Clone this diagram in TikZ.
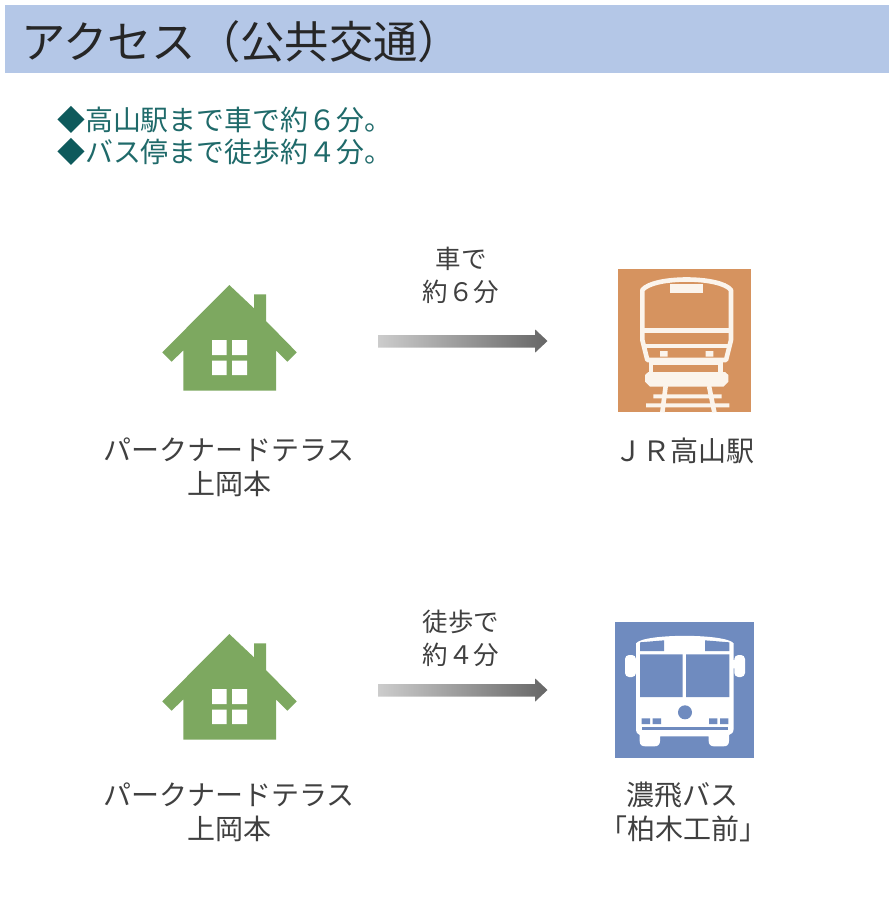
\documentclass[tikz,border=0pt]{standalone}
\usepackage{fontspec}
\setmainfont{Noto Sans CJK JP}
\usetikzlibrary{calc}
\definecolor{barblue}{HTML}{B4C7E7}
\definecolor{tealtext}{HTML}{1F6A6A}
\definecolor{tealmark}{HTML}{0E5A5C}
\definecolor{labelgray}{HTML}{404040}
\definecolor{housegreen}{HTML}{7DA860}
\definecolor{trainorange}{HTML}{D6935F}
\definecolor{traincream}{HTML}{FBF4EC}
\definecolor{busblue}{HTML}{6F8BBF}
\tikzset{
  labeltext/.style={text=labelgray,inner sep=0pt,font=\fontsize{28}{28}\selectfont,align=center},
  smalltext/.style={text=labelgray,inner sep=0pt,font=\fontsize{25.5}{25.5}\selectfont},
  notetext/.style={text=tealtext,inner sep=0pt,anchor=west,font=\fontsize{27.9}{27.9}\selectfont},
  house/.pic={
    \fill[housegreen] (0,0) -- (24.7,23.3) -- (24.7,9.3) -- (36.7,9.3) -- (36.7,36) -- (67.4,67.3) -- (58,76.7) -- (46.7,65.3) -- (46.7,105.7) -- (-46,105.7) -- (-46,65.3) -- (-57.6,76.7) -- (-67,67.3) -- cycle;
    \fill[white] (-17.3,55) rectangle (-2.6,70) (2.7,55) rectangle (17.7,70)
      (-17.3,75.7) rectangle (-2.6,90) (2.7,75.7) rectangle (17.7,90);
  },
}
\newcommand{\grayarrow}[2]{%
  \path[left color=black!20,right color=black!60]
    ($(#1)+(0,-6)$) -- ($(#2)+(-12.3,-6)$) -- ($(#2)+(-12.3,-11.5)$) -- (#2)
    -- ($(#2)+(-12.3,11.5)$) -- ($(#2)+(-12.3,6.5)$) -- ($(#1)+(0,6.5)$) -- cycle;}
\begin{document}
\begin{tikzpicture}[x=1pt,y=-1pt]
\useasboundingbox (0,0) rectangle (889,900);
\fill[white] (0,0) rectangle (889,900);
\fill[barblue] (5,5) rectangle (889,73);
\node[anchor=west,inner sep=0pt,text=black!85,font=\fontsize{44.3}{44.3}\selectfont] (title) at (21,42) {アクセス（公共交通）};
\node[notetext] (note1) at (57,120) {\textcolor{tealmark}{◆}高山駅まで車で約６分。};
\node[notetext] (note2) at (57,152) {\textcolor{tealmark}{◆}バス停まで徒歩約４分。};

% houses
\pic at (229.3,285) {house};
\pic at (229.3,634) {house};
\node[labeltext] (home1a) at (229,450) {パークナードテラス};
\node[labeltext] (home1b) at (229,484) {上岡本};
\node[labeltext] (home2a) at (229,795) {パークナードテラス};
\node[labeltext] (home2b) at (229,829) {上岡本};

% arrows
\coordinate (a1s) at (378,341);
\coordinate (a1e) at (547.5,341);
\coordinate (a2s) at (378,690);
\coordinate (a2e) at (547.5,690);
\grayarrow{a1s}{a1e}
\grayarrow{a2s}{a2e}
\node[smalltext] (car1) at (461,259) {車で};
\node[smalltext] (car2) at (461,292) {約６分};
\node[smalltext] (walk1) at (461,622) {徒歩で};
\node[smalltext] (walk2) at (461,655) {約４分};

% train icon
\begin{scope}[shift={(600,260)},x=0.33333pt,y=-0.33333pt]
  \fill[trainorange] (54,28) rectangle (453,457);
  \begin{scope}[draw=traincream,line width=4.6pt]
    \draw[line join=round] (127,240) -- (127,90) .. controls (160,48) and (360,48) .. (393,90) -- (393,240) -- (378,300) -- (142,300) -- cycle;
    \draw (130,212) -- (390,212);
    \draw (132,258) -- (388,258);
    \draw (153,300) -- (153,342);
    \draw (362,300) -- (362,342);
    \draw (150,308) -- (365,308);
    \draw (197,378) -- (187,457);
    \draw (327,378) -- (343,457);
  \end{scope}
  \fill[traincream] (210,72) rectangle (310,100);
  \fill[traincream] (180,273) rectangle (203,290) (317,273) rectangle (340,290);
  \fill[traincream] (135,345) -- (145,336) -- (375,336) -- (385,345) -- (385,365) -- (370,380) -- (150,380) -- (135,365) -- cycle;
  \fill[traincream] (160,403) rectangle (365,415) (138,430) rectangle (388,442);
\end{scope}
\node[labeltext] (jr) at (684.5,451) {ＪＲ高山駅};

% bus icon
\begin{scope}[shift={(600,615)},x=0.33333pt,y=-0.33333pt]
  \fill[busblue] (46,22) rectangle (462,428);
  \fill[white] (108,85) .. controls (130,55) and (378,55) .. (401,85) -- (401,340) .. controls (401,352) and (395,358) .. (387,360)
    -- (387,378) .. controls (387,390) and (380,394) .. (370,394) -- (342,394) .. controls (332,394) and (326,388) .. (326,378) -- (326,364)
    -- (180,364) -- (180,378) .. controls (180,388) and (174,394) .. (164,394) -- (136,394) .. controls (126,394) and (119,390) .. (119,378)
    -- (119,360) .. controls (112,358) and (108,352) .. (108,340) -- cycle;
  \fill[white,rounded corners=4pt] (75,120) rectangle (108,186) (403,120) rectangle (435,186);
  \fill[white] (100,135) rectangle (112,160) (398,135) rectangle (410,160);
  \fill[busblue] (120,118) rectangle (248,246) (258,118) rectangle (388,246);
  \fill[busblue] (120,82) -- (192,76) -- (192,108) -- (120,108) -- cycle;
  \fill[busblue] (315,76) -- (388,82) -- (388,108) -- (315,108) -- cycle;
  \fill[busblue] (255,292) circle[radius=21];
  \fill[busblue] (125,310) rectangle (150,327) (158,310) rectangle (183,327)
     (327,310) rectangle (352,327) (360,310) rectangle (385,327);
  \fill[busblue] (125,337) rectangle (383,346);
\end{scope}
\node[labeltext] (bus1) at (682,795) {濃飛バス};
\node[labeltext] (bus2) at (683,829) {「柏木工前」};
\end{tikzpicture}
\end{document}
